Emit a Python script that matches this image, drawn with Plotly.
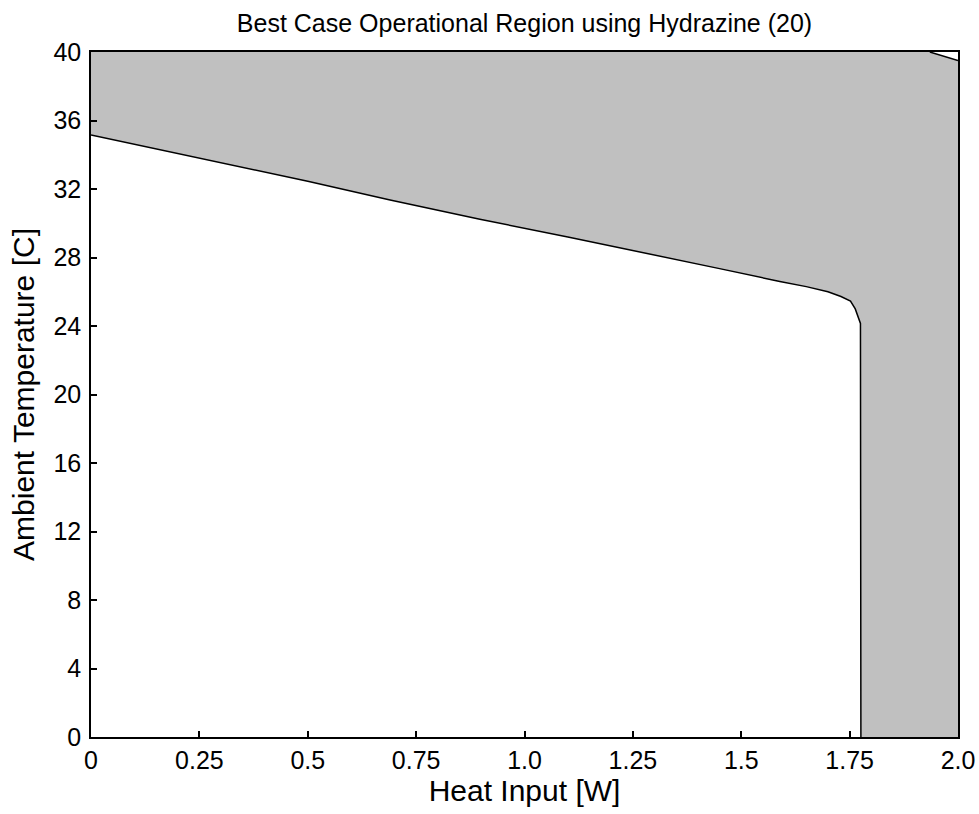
import plotly.graph_objects as go

# Boundary of the operational region (Heat Input [W] vs Ambient Temperature [C])
boundary_x = [0.0, 0.25, 0.5, 0.69, 0.897, 1.1, 1.282, 1.45, 1.589, 1.65, 1.70, 1.73, 1.752, 1.763, 1.775, 1.776]
boundary_y = [35.15, 33.8, 32.45, 31.36, 30.23, 29.2, 28.25, 27.35, 26.6, 26.3, 26.0, 25.72, 25.45, 25.0, 24.15, 0.0]

# Small boundary in the top-right corner
corner_x = [1.935, 2.0]
corner_y = [40.0, 39.5]

x_range = [0, 2.0]
y_range = [0, 40]

x_ticks = [0, 0.25, 0.5, 0.75, 1.0, 1.25, 1.5, 1.75, 2.0]
x_ticklabels = ["0", "0.25", "0.5", "0.75", "1.0", "1.25", "1.5", "1.75", "2.0"]
y_ticks = [0, 4, 8, 12, 16, 20, 24, 28, 32, 36, 40]
y_ticklabels = [str(v) for v in y_ticks]

FONT = "Liberation Sans, Arial, sans-serif"
FILL = "#c0c0c0"

# Gray region polygon: main boundary, right edge, corner boundary, top edge
poly_x = boundary_x + [x_range[1], corner_x[1], corner_x[0], x_range[0], boundary_x[0]]
poly_y = boundary_y + [y_range[0], corner_y[1], corner_y[0], y_range[1], boundary_y[0]]

fig = go.Figure()
fig.add_trace(go.Scatter(x=poly_x, y=poly_y, mode="lines", fill="toself",
                         fillcolor=FILL, line=dict(width=0), hoverinfo="skip",
                         showlegend=False))
fig.add_trace(go.Scatter(x=boundary_x, y=boundary_y, mode="lines",
                         line=dict(color="black", width=1.5), showlegend=False))
fig.add_trace(go.Scatter(x=corner_x, y=corner_y, mode="lines",
                         line=dict(color="black", width=1.5), showlegend=False))

fig.update_layout(
    width=979, height=814,
    margin=dict(l=91, r=21, t=52, b=77),
    paper_bgcolor="white", plot_bgcolor="white",
    font=dict(family=FONT, size=25, color="black"),
    title=dict(text="Best Case Operational Region using Hydrazine (20)",
               x=0.5, xanchor="center", xref="paper",
               y=1 - 23 / 814, yanchor="middle", yref="container",
               font=dict(family=FONT, size=25, color="black")),
    showlegend=False,
)
fig.update_xaxes(range=x_range, tickvals=x_ticks, ticktext=x_ticklabels,
                 ticks="inside", ticklen=6, tickwidth=1.5, tickcolor="black",
                 showline=True, linecolor="black", linewidth=1.5, mirror=True,
                 showgrid=False, zeroline=False, ticklabelstandoff=0,
                 automargin=False,
                 title=dict(text="Heat Input [W]", standoff=6))
fig.update_yaxes(range=y_range, tickvals=y_ticks, ticktext=y_ticklabels,
                 ticks="inside", ticklen=6, tickwidth=1.5, tickcolor="black",
                 showline=True, linecolor="black", linewidth=1.5, mirror=True,
                 showgrid=False, zeroline=False, ticklabelstandoff=3,
                 automargin=False,
                 title=dict(text="Ambient Temperature [C]", standoff=10))

fig.write_html("out.html")
